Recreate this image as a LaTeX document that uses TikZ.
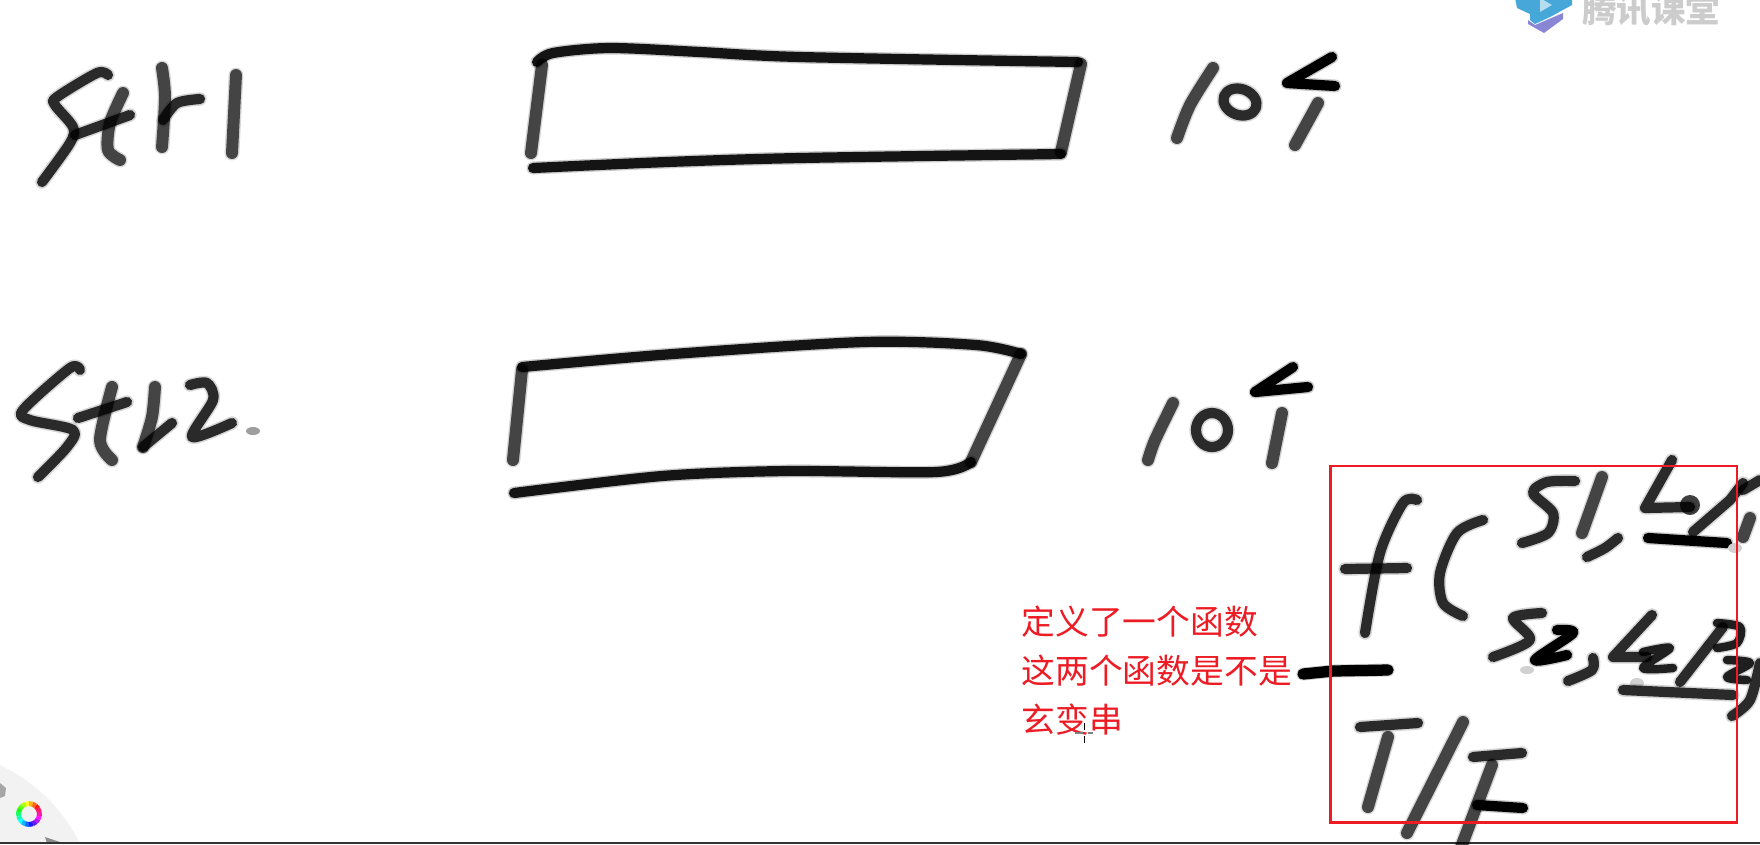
\documentclass[tikz,border=0pt]{standalone}
\usepackage{fontspec}
\newfontfamily\cjk{Noto Sans CJK SC}
\definecolor{annotred}{HTML}{ED1C24}
\definecolor{logoblue}{HTML}{45A8D8}
\definecolor{logopurple}{HTML}{8A86D6}
\tikzset{
  ink/.style={draw=black,draw opacity=.8,line width=2.9pt,line cap=round,line join=round,
    preaction={draw=black,draw opacity=.16,line width=3.8pt,line cap=round,line join=round}},
  inkwide/.style={draw=black,draw opacity=.68,line width=3.4pt,line cap=round,line join=round,
    preaction={draw=black,draw opacity=.16,line width=4.2pt,line cap=round,line join=round}},
  inkfine/.style={draw=black,draw opacity=.85,line width=2.4pt,line cap=round,line join=round,
    preaction={draw=black,draw opacity=.16,line width=3.2pt,line cap=round,line join=round}},
  inkheavy/.style={draw=black,line width=2.9pt,line cap=round,line join=round,
    preaction={draw=black,draw opacity=.2,line width=3.7pt,line cap=round,line join=round}},
  speck/.style={fill=black!18,draw=none},
  notetext/.style={text=annotred,font=\cjk\fontsize{9.6pt}{13.9pt}\selectfont,align=left,anchor=north west}
}
\begin{document}
\begin{tikzpicture}[x=0.01cm,y=-0.01cm]
\tikzstyle{every node}+=[inner sep=0pt]
\useasboundingbox (0,0) rectangle (1760,844);
\fill [white] (0,0) rectangle (1760,844);
\fill [black!5] (0,765) .. controls (40,785) and (62,810) .. (80,843) -- (0,843) -- cycle;
\fill [black!35] (0,783) -- (6,788) -- (5,796) -- (0,798) -- cycle;
\fill [black!45] (45,837) -- (63,843) -- (47,843) -- cycle;
\foreach \h in {0,20,...,340} {
  \definecolor{wheelhue}{Hsb}{\h,.9,1}
  \draw [wheelhue,line width=1.4pt] ({29+10.5*cos(\h+30)},{814-10.5*sin(\h+30)}) -- ({29+10.5*cos(\h+52)},{814-10.5*sin(\h+52)});
}
\draw [draw=black!80,line width=0.6pt] (0,843) -- (1760,843);
\fill [logoblue] (1515,-2) -- (1572,-2) -- (1572,5) -- (1550,17) -- (1535,24) -- (1530,20) -- (1530,14) -- (1517,8) -- cycle;
\fill [white!60!logoblue] (1540,-2) -- (1552,5) -- (1540,12) -- cycle;
\fill [logopurple] (1528,20) -- (1535,25) -- (1563,13) -- (1563,19) -- (1544,33) -- (1528,24) -- cycle;
\node (logotext) [text=black!20,font=\cjk\bfseries\fontsize{9.8pt}{10pt}\selectfont] at (1651,10) {腾讯课堂};
\draw [ink] plot [smooth] coordinates {(108,75) (97,73) (57,97) (55,105) (73,127) (70,143) (42,182)};
\draw [inkwide] plot [smooth] coordinates {(123,93) (110,123) (108,150) (120,160)};
\draw [ink] (75,135) -- (130,115);
\draw [inkwide] plot [smooth] coordinates {(162,68) (165,97) (162,147)};
\draw [ink] plot [smooth] coordinates {(163,120) (177,103) (200,99)};
\draw [inkwide] (236,75) -- (232,153);
\draw [ink] plot [smooth] coordinates {(80,370) (70,368) (23,410) (30,420) (73,430) (67,447) (38,477)};
\draw [inkwide] plot [smooth] coordinates {(112,387) (100,440) (112,460)};
\draw [ink] (78,418) -- (127,402);
\draw [inkwide] plot [smooth] coordinates {(155,387) (152,417) (143,447)};
\draw [ink] (143,447) -- (172,423);
\draw [ink] plot [smooth] coordinates {(190,385) (207,383) (213,400) (192,437) (232,423)};
\fill [black!38] (253,431) ellipse (7 and 4);
\draw [inkwide] (542,65) -- (531,153);
\draw [inkheavy,draw opacity=.9] plot [smooth] coordinates {(537,62) (553,53) (610,48) (700,52) (800,57) (1078,62)};
\draw [inkwide] (1081,64) -- (1061,152);
\draw [inkheavy,draw opacity=.9] plot [smooth] coordinates {(1061,154) (800,158) (667,162) (533,168)};
\draw [inkwide] (522,370) -- (513,460);
\draw [inkheavy,draw opacity=.9] plot [smooth] coordinates {(522,367) (673,354) (864,342) (976,345) (1021,354)};
\draw [inkwide] (1021,354) -- (971,462);
\draw [inkheavy,draw opacity=.9] plot [smooth] coordinates {(971,462) (936,472) (786,471) (662,476) (514,493)};
\draw [inkwide] plot [smooth] coordinates {(1213,68) (1190,105) (1177,138)};
\draw [ink,rotate around={-20:(1240,102)}] (1240,102) ellipse (17 and 13);
\draw [inkheavy] (1332,57) -- (1287,83) -- (1335,86);
\draw [inkwide] (1318,103) -- (1295,145);
\draw [inkwide] plot [smooth] coordinates {(1173,403) (1155,440) (1148,460)};
\draw [ink] (1212,430) ellipse (16 and 17);
\draw [inkheavy] (1293,367) -- (1255,392) -- (1308,387);
\draw [inkwide] (1282,413) -- (1272,463);
\draw [ink] plot [smooth] coordinates {(1417,500) (1403,503) (1380,553) (1365,633)};
\draw [ink] (1345,569) -- (1407,568);
\draw [ink] plot [smooth] coordinates {(1483,520) (1457,533) (1440,573) (1443,603) (1463,616)};
\draw [ink] plot [smooth] coordinates {(1575,481) (1547,482) (1533,493) (1553,513) (1548,533) (1522,543)};
\draw [inkwide] (1602,477) -- (1582,533);
\draw [ink] plot [smooth] coordinates {(1618,538) (1605,548) (1587,557)};
\draw [ink] (1672,460) -- (1645,508) -- (1690,507);
\fill [black,opacity=.75] (1690,505) circle (10);
\draw [ink] (1743,483) -- (1730,500) -- (1693,532);
\draw [ink] (1743,490) -- (1760,480);
\draw [inkwide] (1750,518) -- (1743,537);
\draw [inkheavy] (1648,538) -- (1727,543);
\fill [speck] (1735,548) ellipse (7 and 5);
\draw [ink] plot [smooth] coordinates {(1542,613) (1513,618) (1530,640) (1493,657)};
\draw [inkheavy] plot [smooth] coordinates {(1557,630) (1573,633) (1535,660) (1567,655)};
\fill [speck] (1527,670) ellipse (7 and 4);
\draw [ink] plot [smooth] coordinates {(1593,658) (1592,670) (1568,681)};
\draw [ink] (1652,615) -- (1613,657) -- (1647,657);
\draw [inkfine] plot [smooth] coordinates {(1643,652) (1670,648) (1643,668) (1673,668)};
\draw [ink] (1723,627) -- (1680,682);
\draw [inkfine] plot [smooth] coordinates {(1717,623) (1740,627) (1737,643) (1717,648)};
\draw [inkfine] plot [smooth] coordinates {(1727,660) (1750,663) (1727,677) (1747,680)};
\draw [ink] plot [smooth] coordinates {(1760,663) (1750,700) (1732,716)};
\fill [speck] (1637,683) ellipse (7 and 5);
\draw [ink] (1623,690) -- (1733,695);
\draw [inkheavy,line width=3.2pt] (1303,674) -- (1333,671) -- (1388,670);
\draw [ink] (1360,727) -- (1418,723);
\draw [inkwide] (1388,737) -- (1368,807);
\draw [inkwide] (1463,722) -- (1407,833);
\draw [ink] (1473,757) -- (1522,753);
\draw [inkwide] (1492,765) -- (1460,850);
\draw [inkheavy] (1477,805) -- (1523,808);
\node (fnnote) [notetext] at (1021,605) {定义了一个函数\\这两个函数是不是\\玄变串};
\draw [black!50,line width=0.3pt] (1075,733) -- (1083,733) (1088,733) -- (1093,733);
\draw [black,line width=0.2pt] (1084,723) -- (1084,730) (1084,736) -- (1084,743);
\node (fnframe) [draw=annotred,line width=0.75pt,minimum width=4.064cm,minimum height=3.563cm] at (1533.5,644.2) {};
\end{tikzpicture}
\end{document}
